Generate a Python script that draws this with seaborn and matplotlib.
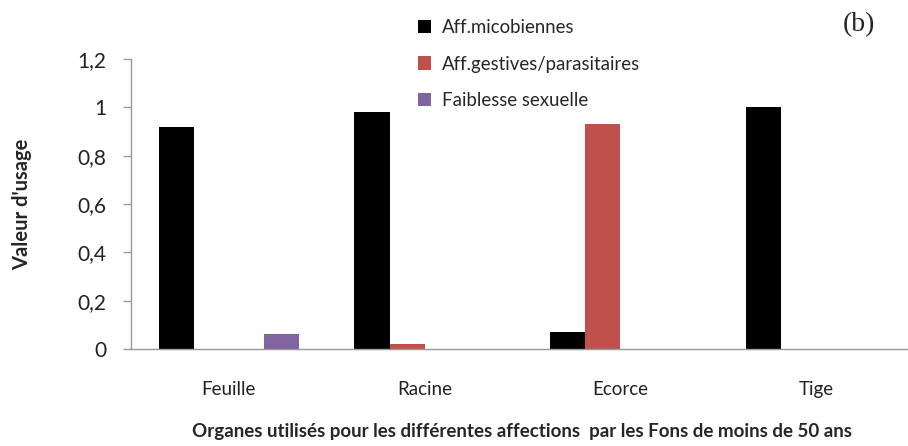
import pandas as pd
import seaborn as sns
import matplotlib.pyplot as plt
from matplotlib.patches import Patch
from matplotlib.ticker import FuncFormatter

organes = ['Feuille', 'Racine', 'Ecorce', 'Tige']
aff_microbiennes = [0.92, 0.98, 0.07, 1.00]
aff_digestives = [0.0, 0.02, 0.93, 0.0]
faiblesse_sexuelle = [0.06, 0.0, 0.0, 0.0]

series = ['Aff.micobiennes', 'Aff.gestives/parasitaires', 'Faiblesse sexuelle']
# the original chart keeps an empty slot between the red and purple bars
slots = [series[0], series[1], '_vide', series[2]]
colors = {series[0]: '#000000', series[1]: '#C0504D',
          '_vide': '#9BBB59', series[2]: '#8064A2'}

df = pd.DataFrame({
    'Organe': organes * 3,
    'Affection': [s for s in series for _ in organes],
    'Valeur': aff_microbiennes + aff_digestives + faiblesse_sexuelle,
})

sns.set_style('white')
plt.rcParams['font.family'] = ['Lato', 'DejaVu Sans']

fig = plt.figure(figsize=(9.08, 4.46), dpi=100)
ax = fig.add_axes([0.1443, 0.2175, 0.862, 0.6502])

sns.barplot(data=df, x='Organe', y='Valeur', hue='Affection', order=organes,
            hue_order=slots, palette=colors, width=0.716, saturation=1,
            legend=False, ax=ax, linewidth=0)

ax.set_ylim(0, 1.2)
ax.set_xlim(-0.5, 3.5)
ax.set_yticks([0, 0.2, 0.4, 0.6, 0.8, 1.0, 1.2])
ax.yaxis.set_major_formatter(FuncFormatter(lambda v, p: f'{v:g}'.replace('.', ',')))
ax.set_xticks([0, 1, 2, 3])
ax.set_xticks([-0.5, 0.5, 1.5, 2.5, 3.5], minor=True)
ax.tick_params(axis='x', which='major', length=0, pad=23, labelsize=13.5, labelcolor='#222222')
ax.tick_params(axis='x', which='minor', length=6, width=1, color='#999999', direction='out')
ax.tick_params(axis='y', length=6, width=1, color='#999999', direction='out',
               labelsize=15, pad=12, left=True, labelcolor='#222222')

for side in ['top', 'right']:
    ax.spines[side].set_visible(False)
for side in ['left', 'bottom']:
    ax.spines[side].set_color('#999999')
    ax.spines[side].set_linewidth(1)

ax.set_xlabel('Organes utilisés pour les différentes affections  par les Fons de moins de 50 ans',
              fontsize=13.5, fontweight='bold', labelpad=18)
ax.set_ylabel("Valeur d'usage", fontsize=14.5, fontweight='bold', labelpad=32)

handles = [Patch(facecolor=colors[s], edgecolor='none') for s in series]
fig.legend(handles, series, loc='upper left', bbox_to_anchor=(0.442, 0.995),
           frameon=False, fontsize=13.4, handlelength=0.7, handleheight=0.7,
           handletextpad=0.6, labelspacing=1.05)

fig.text(0.928, 0.945, '(b)', fontsize=20, family='Liberation Serif', ha='left', va='center')

fig.savefig('out.png', dpi=100)
